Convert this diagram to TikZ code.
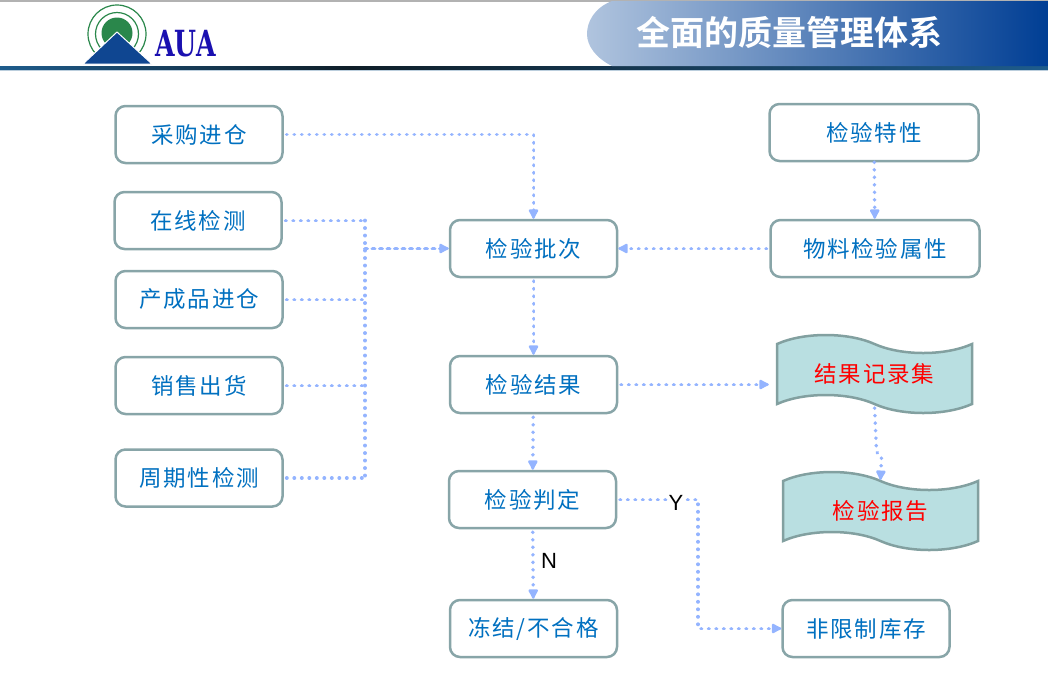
\documentclass[tikz,border=0pt]{standalone}
\usepackage{fontspec}
\setmainfont{Liberation Sans}
\newfontfamily\cjk[LetterSpace=8]{Noto Sans CJK SC}
\newfontfamily\cjktitle{Noto Sans CJK SC Bold}
\newfontfamily\logofont{DejaVu Serif}
\definecolor{auaedge}{RGB}{136, 165, 168}
\definecolor{auatext}{RGB}{0, 112, 192}
\definecolor{auaflow}{RGB}{148, 180, 255}
\definecolor{auatape}{RGB}{185, 223, 225}
\definecolor{auatapeedge}{RGB}{130, 160, 160}
\definecolor{auagreen}{RGB}{42, 135, 75}
\definecolor{auanavy}{RGB}{15, 70, 145}
\definecolor{auaink}{RGB}{26, 16, 176}
\definecolor{bandlight}{RGB}{176, 196, 222}
\definecolor{banddark}{RGB}{0, 62, 148}
\definecolor{ruleblue}{RGB}{30, 92, 140}
\definecolor{ruledark}{RGB}{15, 30, 40}
\usetikzlibrary{
    shapes.symbols,
    arrows.meta,
    positioning,
    calc
}

\begin{document}
\begin{tikzpicture}[
    x=1pt, y=-1pt,
    block/.style={
        rectangle, draw=auaedge, line width=2.5pt, rounded corners=10pt, fill=white,
        minimum width=167pt, minimum height=57pt,
        align=center, text=auatext, font=\cjk\fontsize{22.5}{24}\selectfont
    },
    wave/.style={
        tape, draw=auatapeedge, line width=2.5pt, fill=auatape,
        tape bend top=out and in, tape bend bottom=out and in, tape bend height=18pt,
        minimum width=195pt, minimum height=78pt,
        text=red, font=\cjk\fontsize{22.5}{24}\selectfont
    },
    link/.style={
        draw=auaflow, line width=3.8pt, line cap=round,
        dash pattern=on 0.1pt off 7.4pt
    },
    flow/.style={
        link, shorten <=3pt,
        -{Latex[length=12pt,width=12pt,round=false]}
    },
    letter/.style={font=\fontsize{22}{24}\selectfont, text=black, fill=white, inner sep=1pt}
]
    \useasboundingbox (0,0) rectangle (1048,686);

    % Header
    \fill[gray!60] (0,0) rectangle (1048,2);
    \shade[left color=ruleblue, right color=ruledark] (0,66) rectangle (350,70);
    \shade[left color=ruledark, right color=ruleblue] (350,66) rectangle (1048,70);
    \fill[ruleblue!30] (0,70) rectangle (1048,71);
    \shade[left color=bandlight, right color=banddark]
        (1048,1) -- (612,1) .. controls (594,8) and (587,22) .. (587,34)
        .. controls (587,46) and (596,58) .. (612,66) -- (1048,66) -- cycle;
    \node[text=white, font=\cjktitle\fontsize{34}{36}\selectfont] (title) at (789.5,32) {全面的质量管理体系};

    % Logo
    \draw[auagreen, line width=1.2pt] (117,34) circle (29);
    \draw[auagreen, line width=1.2pt] (117,34) circle (21.5);
    \fill[auagreen] (117,33) circle (15.5);
    \fill[auanavy, draw=white, line width=1pt] (117,32) -- (152,64) -- (83,64) -- cycle;
    \node[text=auaink, xscale=0.7, font=\logofont\bfseries\fontsize{36}{40}\selectfont] (logo) at (185.5,44) {AUA};

    % Sources
    \node[block] (buy) at (199,134.5) {采购进仓};
    \node[block] (online) at (198,220.5) {在线检测};
    \node[block] (product) at (199,299.5) {产成品进仓};
    \node[block] (sales) at (199,385.5) {销售出货};
    \node[block] (cycle) at (199,478) {周期性检测};

    % Main column
    \node[block] (batch) at (533.5,248.5) {检验批次};
    \node[block] (result) at (533.5,384.5) {检验结果};
    \node[block] (judge) at (532.5,499.5) {检验判定};
    \node[block] (frozen) at (533.5,628.5) {冻结/不合格};

    % Right column
    \node[block,minimum width=209pt] (feature) at (874,132.5) {检验特性};
    \node[block,minimum width=209pt] (material) at (875,248.5) {物料检验属性};
    \node[wave] (record) at (874.5,374) {结果记录集};
    \node[wave] (report) at (880.5,511) {检验报告};
    \node[block] (stock) at (866,628.5) {非限制库存};

    % Arrows
    \coordinate (bus) at (365,248.5);
    \coordinate (turn) at (698,499.5);
    \foreach \a in {online,product,sales,cycle} {
        \draw[link,shorten <=3pt] (\a.east) -- (\a.east -| bus);
    }
    \draw[link] (online.east -| bus) -- (cycle.east -| bus);
    \draw[flow,shorten <=0pt,dash pattern=on 2pt off 5.5pt] (bus) -- (batch.west);
    \draw[flow] (buy.east) -| (batch.north);
    \draw[flow,shorten <=0pt] (feature) -- (material);
    \draw[flow] (material) -- (batch);
    \foreach \a/\b in {batch/result,result/judge,judge/frozen} {
        \draw[flow] (\a) -- (\b);
    }
    \draw[flow,shorten >=7pt] (result.east) -- (result.east -| record.west);
    \draw[flow] (record.south) -- ++(2,47) -- ++(5,4) -- (report.north);
    \draw[flow] (judge.east) -- (turn) |- (stock.west);

    % Labels
    \node[letter] (ylabel) at (676,503) {Y};
    \node[letter] (nlabel) at (549,561) {N};
\end{tikzpicture}
\end{document}
